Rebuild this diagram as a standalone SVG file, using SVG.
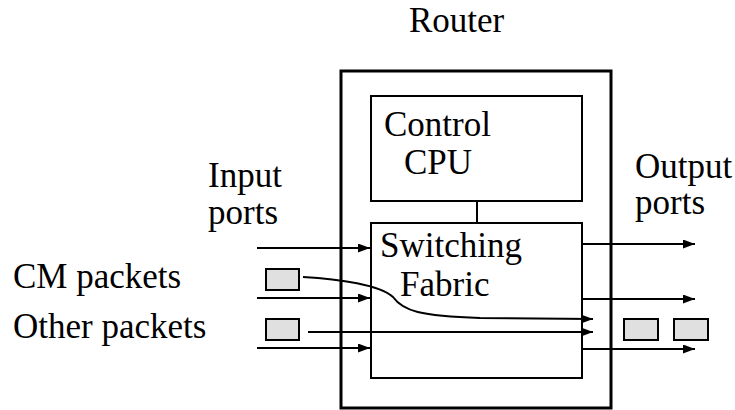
<svg xmlns="http://www.w3.org/2000/svg" width="735" height="410" viewBox="0 0 735 410">
<style>
.t{font-size:35px;fill:#000}
.box{fill:#fff;stroke:#000;stroke-width:2}
.pkt{fill:#e0e0e0;stroke:#000;stroke-width:2}
.ln{fill:none;stroke:#000;stroke-width:2}
</style>
<defs>
<marker id="ah" markerUnits="userSpaceOnUse" markerWidth="13" markerHeight="10" refX="12" refY="4.5" orient="auto">
<path d="M0,0 L12,4.5 L0,9 z" fill="#000"/>
</marker>
</defs>
<rect width="735" height="410" fill="#fff"/>
<g font-family="Liberation Serif, Times New Roman, DejaVu Serif, serif">
<g id="router">
<rect x="341" y="71" width="270" height="337" fill="none" stroke="#000" stroke-width="3"/>
<text class="t" x="409" y="32">Router</text>
</g>
<g id="cpu">
<rect class="box" x="371" y="96" width="211" height="105"/>
<text class="t" x="384" y="136">Control</text>
<text class="t" x="404" y="174">CPU</text>
</g>
<g id="fabric">
<rect class="box" x="371" y="223" width="211" height="155"/>
<text class="t" x="380" y="257">Switching</text>
<text class="t" x="400" y="296">Fabric</text>
</g>
<g id="labels">
<text class="t" x="208" y="187">Input</text>
<text class="t" x="208" y="224">ports</text>
<text class="t" x="635" y="178">Output</text>
<text class="t" x="635" y="214">ports</text>
<text class="t" x="13" y="288">CM packets</text>
<text class="t" x="13" y="338">Other packets</text>
</g>
</g>
<g id="packets">
<rect class="pkt" x="266" y="269" width="33" height="21"/>
<rect class="pkt" x="266" y="319" width="33" height="21"/>
<rect class="pkt" x="624" y="319" width="34" height="21"/>
<rect class="pkt" x="674" y="319" width="34" height="21"/>
</g>
<g id="connectors">
<line class="ln" x1="477" y1="201" x2="477" y2="223"/>
<line class="ln" x1="257" y1="248" x2="370" y2="248" marker-end="url(#ah)"/>
<line class="ln" x1="257" y1="298" x2="370" y2="298" marker-end="url(#ah)"/>
<line class="ln" x1="257" y1="348" x2="370" y2="348" marker-end="url(#ah)"/>
<line class="ln" x1="582" y1="244" x2="695" y2="244" marker-end="url(#ah)"/>
<line class="ln" x1="582" y1="299" x2="695" y2="299" marker-end="url(#ah)"/>
<line class="ln" x1="582" y1="349" x2="695" y2="349" marker-end="url(#ah)"/>
<path class="ln" d="M303,277 C340,279 380,285 393,297 C403,311 420,316 480,318 L593,319" marker-end="url(#ah)"/>
<line class="ln" x1="308" y1="332" x2="593" y2="332" marker-end="url(#ah)"/>
</g>
</svg>
